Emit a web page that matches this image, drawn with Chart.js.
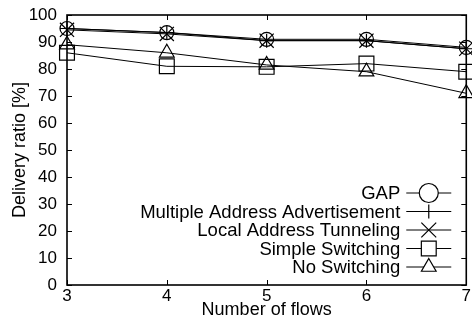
<!DOCTYPE html>
<html>
<head>
<meta charset="utf-8">
<script src="https://cdn.jsdelivr.net/npm/chart.js@4"></script>
<style>
  html, body { margin: 0; padding: 0; background: #fff; }
  #wrap { width: 472px; height: 327px; }
</style>
</head>
<body>
<div id="wrap"><canvas id="myChart" width="472" height="327"></canvas></div>
<script>
// values
const flows = [3, 4, 5, 6, 7];
const gap = [95, 93.5, 91, 91, 88];
const multiAddr = [95, 93.5, 90.5, 90.5, 87.5];
const localTunnel = [94.5, 93, 90.5, 90.5, 87.5];
const simpleSwitch = [86, 81, 80.8, 82, 79];
const noSwitch = [89, 86, 81.5, 79, 71];
const seriesNames = ['GAP', 'Multiple Address Advertisement', 'Local Address Tunneling', 'Simple Switching', 'No Switching'];
const yTicks = [0, 10, 20, 30, 40, 50, 60, 70, 80, 90, 100];

// marker look per series
const markers = ['circle', 'cross', 'crossRot', 'rect', 'triangle'];
const markerSize = [7, 7, 10, 10.5, 8.5];
const keySize = [9.5, 7, 10.5, 10.5, 8.5];

const FONT = '"Liberation Sans", Arial, sans-serif';

function pts(vals) {
    return flows.map((f, i) => ({ x: f, y: vals[i] }));
}

const allVals = [gap, multiAddr, localTunnel, simpleSwitch, noSwitch];

const data = {
    datasets: allVals.map((v, i) => ({
        label: seriesNames[i],
        data: pts(v),
        borderColor: '#000',
        backgroundColor: 'rgba(0,0,0,0)',
        borderWidth: 1,
        pointStyle: markers[i],
        pointRadius: markerSize[i],
        pointBorderWidth: 1.2,
        pointBorderColor: '#000',
        pointBackgroundColor: 'rgba(0,0,0,0)',
        tension: 0,
        clip: false
    }))
};

// gnuplot-like inner ticks on all four sides + box
const frame = {
    id: 'frame',
    afterDraw(chart) {
        const { ctx, chartArea: a, scales } = chart;
        ctx.save();
        ctx.strokeStyle = '#000';
        ctx.lineWidth = 1;
        flows.forEach(f => {
            const x = Math.round(scales.x.getPixelForValue(f)) + 0.5;
            ctx.beginPath();
            ctx.moveTo(x, a.bottom); ctx.lineTo(x, a.bottom - 5);
            ctx.moveTo(x, a.top); ctx.lineTo(x, a.top + 5);
            ctx.stroke();
        });
        yTicks.forEach(t => {
            const y = Math.round(scales.y.getPixelForValue(t)) + 0.5;
            ctx.beginPath();
            ctx.moveTo(a.left, y); ctx.lineTo(a.left + 5, y);
            ctx.moveTo(a.right, y); ctx.lineTo(a.right - 5, y);
            ctx.stroke();
        });
        ctx.lineWidth = 1.6;
        ctx.strokeRect(a.left, a.top, a.right - a.left, a.bottom - a.top);
        ctx.restore();
    }
};

// legend inside the plot, text right-aligned, sample on the right
const keyBox = {
    id: 'keyBox',
    afterDraw(chart) {
        const { ctx, chartArea: a } = chart;
        ctx.save();
        ctx.font = '18.5px ' + FONT;
        ctx.textAlign = 'right';
        ctx.textBaseline = 'middle';
        const x1 = a.right - 60, x2 = a.right - 15, xm = (x1 + x2) / 2;
        chart.data.datasets.forEach((ds, i) => {
            const y = a.top + 178 + i * 18.5;
            ctx.fillStyle = '#000';
            ctx.fillText(ds.label, x1 - 6, y + 1);
            ctx.strokeStyle = '#000';
            ctx.lineWidth = 1;
            ctx.beginPath();
            ctx.moveTo(x1, y); ctx.lineTo(x2, y);
            ctx.stroke();
            ctx.fillStyle = '#fff'; // key symbols hide the sample line
            ctx.lineWidth = 1.2;
            Chart.helpers.drawPoint(ctx, { pointStyle: ds.pointStyle, radius: keySize[i], rotation: 0, borderWidth: 1.2 }, xm, y);
        });
        ctx.restore();
    }
};

const config = {
    type: 'line',
    data: data,
    options: {
        responsive: false,
        animation: false,
        layout: { autoPadding: false, padding: { top: 15, right: 0, left: 0, bottom: 0 } },
        plugins: { legend: { display: false }, tooltip: { enabled: false } },
        scales: {
            x: {
                type: 'linear', min: 3, max: 7,
                afterFit(s) { s.height = 42; },
                afterBuildTicks(s) { s.ticks = flows.map(v => ({ value: v })); },
                grid: { display: false, drawTicks: false },
                border: { display: false },
                ticks: { color: '#000', font: { size: 17, family: FONT }, padding: 1, maxRotation: 0 },
                title: { display: true, text: 'Number of flows', color: '#000', font: { size: 18, family: FONT }, padding: { top: 0, bottom: 6 } }
            },
            y: {
                min: 0, max: 100,
                afterFit(s) { s.width = 67; s.paddingTop = 0; s.paddingBottom = 0; },
                afterBuildTicks(s) { s.ticks = yTicks.map(v => ({ value: v })); },
                grid: { display: false, drawTicks: false },
                border: { display: false },
                ticks: { color: '#000', font: { size: 17, family: FONT }, padding: 10 },
                title: { display: true, text: 'Delivery ratio [%]', color: '#000', font: { size: 18, family: FONT }, padding: { top: 9, bottom: 0 } }
            }
        }
    },
    plugins: [frame, keyBox]
};

const myChart = new Chart(document.getElementById('myChart'), config);
</script>
</body>
</html>
